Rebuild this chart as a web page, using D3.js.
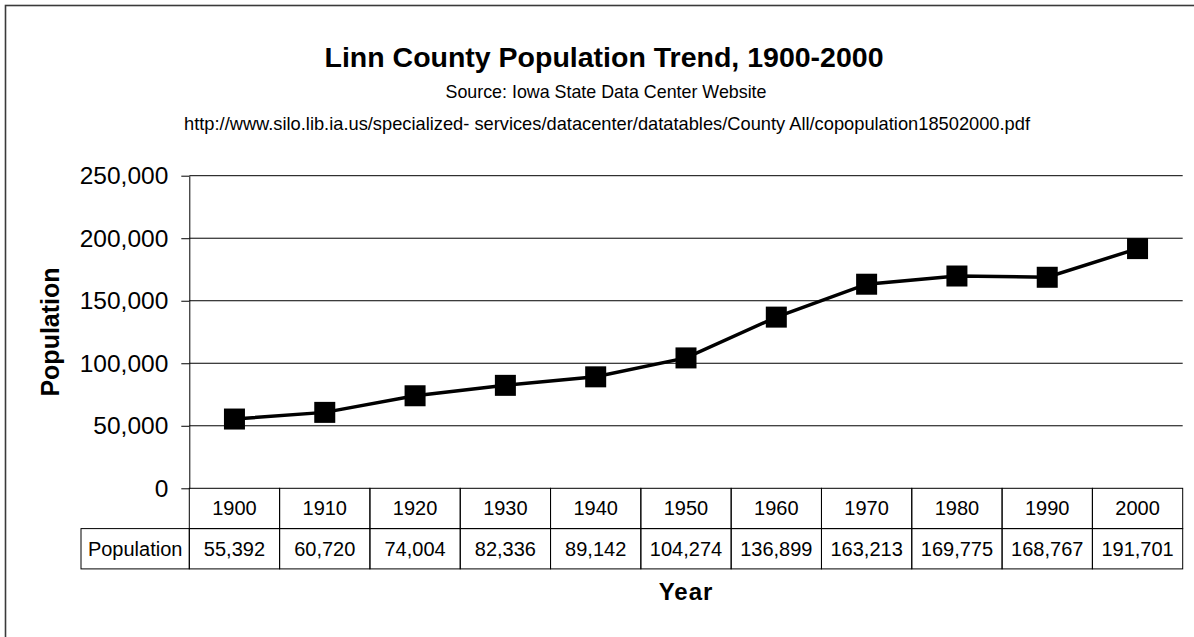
<!DOCTYPE html>
<html>
<head>
<meta charset="utf-8">
<script src="https://cdn.jsdelivr.net/npm/d3@7"></script>
<style>
    body { margin: 0; background: #fff; }
    text { font-family: "Liberation Sans", Arial, sans-serif; fill: #000; }
</style>
</head>
<body>
<div id="chart"></div>
<script>
// chart data
const years = ["1900", "1910", "1920", "1930", "1940", "1950", "1960", "1970", "1980", "1990", "2000"];
const population = [55392, 60720, 74004, 82336, 89142, 104274, 136899, 163213, 169775, 168767, 191701];
const yTicks = [0, 50000, 100000, 150000, 200000, 250000];
const rowLabel = "Population";

const W = 1194, H = 637;
const margin = {top: 175.7, right: 11.3, bottom: 148.7, left: 189.3};
const plotW = W - margin.left - margin.right;
const plotH = H - margin.top - margin.bottom;
const rowH = 40.3;

const svg = d3.select("#chart")
    .append("svg")
    .attr("width", W)
    .attr("height", H);

// outer frame (cut off on the right and bottom in the original)
svg.append("rect")
    .attr("x", 5.5)
    .attr("y", 5.5)
    .attr("width", W + 20)
    .attr("height", H + 20)
    .attr("fill", "none")
    .attr("stroke", "#3a3a3a")
    .attr("stroke-width", 1.6);

// titles
svg.append("text")
    .attr("x", 604)
    .attr("y", 67)
    .attr("text-anchor", "middle")
    .style("font-size", "28.5px")
    .style("font-weight", "bold")
    .text("Linn County Population Trend, 1900-2000");

svg.append("text")
    .attr("x", 606)
    .attr("y", 97.5)
    .attr("text-anchor", "middle")
    .attr("textLength", 321)
    .attr("lengthAdjust", "spacingAndGlyphs")
    .style("font-size", "18.5px")
    .text("Source: Iowa State Data Center Website");

svg.append("text")
    .attr("x", 607)
    .attr("y", 130)
    .attr("text-anchor", "middle")
    .attr("textLength", 846)
    .attr("lengthAdjust", "spacingAndGlyphs")
    .style("font-size", "19px")
    .text("http://www.silo.lib.ia.us/specialized- services/datacenter/datatables/County All/copopulation18502000.pdf");

const g = svg.append("g")
    .attr("transform", "translate(" + margin.left + "," + margin.top + ")");

const x = d3.scaleBand()
    .domain(years)
    .range([0, plotW])
    .padding(0);

const y = d3.scaleLinear()
    .domain([0, 250000])
    .range([plotH, 0]);

// gridlines
g.append("g")
    .selectAll("line")
    .data(yTicks.filter(d => d > 0))
    .enter()
    .append("line")
    .attr("x1", 0)
    .attr("x2", plotW)
    .attr("y1", d => y(d))
    .attr("y2", d => y(d))
    .attr("stroke", "#000")
    .attr("stroke-width", 1);

// y axis
const yAxis = g.append("g")
    .call(d3.axisLeft(y)
        .tickValues(yTicks)
        .tickSize(8)
        .tickSizeOuter(0)
        .tickPadding(13)
        .tickFormat(d3.format(",")));
yAxis.selectAll("text")
    .style("font-size", "24.5px")
    .style("font-family", "'Liberation Sans', Arial, sans-serif")
    .attr("fill", "#000");
yAxis.selectAll("line, path").attr("stroke", "#000");

svg.append("text")
    .attr("transform", "translate(59," + (margin.top + plotH / 2) + ") rotate(-90)")
    .attr("text-anchor", "middle")
    .style("font-size", "25px")
    .style("font-weight", "bold")
    .text("Population");

// data table under the axis
const table = g.append("g")
    .attr("transform", "translate(0," + plotH + ")");

table.selectAll(".yearcell")
    .data(years)
    .enter()
    .append("rect")
    .attr("class", "yearcell")
    .attr("x", d => x(d))
    .attr("y", 0)
    .attr("width", x.bandwidth())
    .attr("height", rowH)
    .attr("fill", "none")
    .attr("stroke", "#000");

table.selectAll(".valcell")
    .data(population)
    .enter()
    .append("rect")
    .attr("class", "valcell")
    .attr("x", (d, i) => x(years[i]))
    .attr("y", rowH)
    .attr("width", x.bandwidth())
    .attr("height", rowH)
    .attr("fill", "none")
    .attr("stroke", "#000");

table.append("rect")
    .attr("x", 81 - margin.left)
    .attr("y", rowH)
    .attr("width", margin.left - 81)
    .attr("height", rowH)
    .attr("fill", "none")
    .attr("stroke", "#000");

table.selectAll(".yearlabel")
    .data(years)
    .enter()
    .append("text")
    .attr("class", "yearlabel")
    .attr("x", d => x(d) + x.bandwidth() / 2)
    .attr("y", 27)
    .attr("text-anchor", "middle")
    .style("font-size", "20px")
    .text(d => d);

table.selectAll(".vallabel")
    .data(population)
    .enter()
    .append("text")
    .attr("class", "vallabel")
    .attr("x", (d, i) => x(years[i]) + x.bandwidth() / 2)
    .attr("y", rowH + 27)
    .attr("text-anchor", "middle")
    .style("font-size", "20px")
    .text(d => d3.format(",")(d));

table.append("text")
    .attr("x", (81 - margin.left) / 2)
    .attr("y", rowH + 27)
    .attr("text-anchor", "middle")
    .style("font-size", "20px")
    .text(rowLabel);

svg.append("text")
    .attr("x", margin.left + plotW / 2)
    .attr("y", 600)
    .attr("text-anchor", "middle")
    .style("font-size", "24px")
    .style("font-weight", "bold")
    .style("letter-spacing", "1px")
    .text("Year");

// line + square markers
const line = d3.line()
    .x((d, i) => x(years[i]) + x.bandwidth() / 2)
    .y(d => y(d));

g.append("path")
    .datum(population)
    .attr("d", line)
    .attr("fill", "none")
    .attr("stroke", "#000")
    .attr("stroke-width", 3.5);

const size = 21;
g.selectAll(".marker")
    .data(population)
    .enter()
    .append("rect")
    .attr("class", "marker")
    .attr("x", (d, i) => x(years[i]) + x.bandwidth() / 2 - size / 2)
    .attr("y", d => y(d) - size / 2)
    .attr("width", size)
    .attr("height", size)
    .attr("fill", "#000");
</script>
</body>
</html>
